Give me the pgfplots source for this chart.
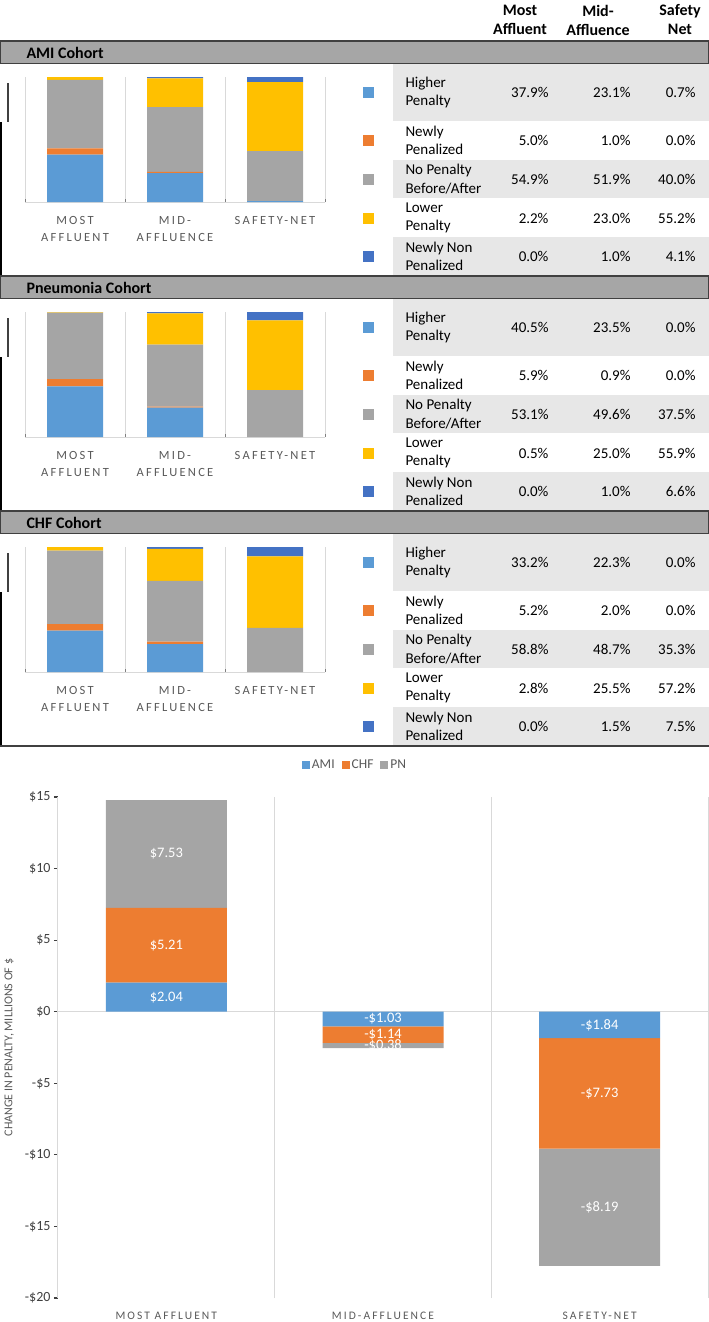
\documentclass[border=0pt]{standalone}
\usepackage{fontspec}
\setmainfont{Carlito}
\newfontfamily\capsfont[LetterSpace=18]{Carlito}
\usepackage{pgfplots}
\usepackage{pgfplotstable}
\pgfplotsset{compat=1.18}

\definecolor{cHigh}{HTML}{5B9BD5}
\definecolor{cNew}{HTML}{ED7D31}
\definecolor{cNone}{HTML}{A5A5A5}
\definecolor{cLow}{HTML}{FFC000}
\definecolor{cNon}{HTML}{4472C4}
\definecolor{gridc}{HTML}{D9D9D9}
\definecolor{lab}{HTML}{595959}
\definecolor{rowgray}{HTML}{E7E7E7}
\definecolor{hdrgray}{HTML}{A6A6A6}
\definecolor{hdrline}{HTML}{404040}

% share of hospitals (%) by penalty change, columns: most affluent, mid, safety-net
\pgfplotstableread{
x high new none low non
0 37.9 5.0 54.9 2.2 0.0
1 23.1 1.0 51.9 23.0 1.0
2 0.7 0.0 40.0 55.2 4.1
}\ami
\pgfplotstableread{
x high new none low non
0 40.5 5.9 53.1 0.5 0.0
1 23.5 0.9 49.6 25.0 1.0
2 0.0 0.0 37.5 55.9 6.6
}\pneu
\pgfplotstableread{
x high new none low non
0 33.2 5.2 58.8 2.8 0.0
1 22.3 2.0 48.7 25.5 1.5
2 0.0 0.0 35.3 57.2 7.5
}\chf

\newcommand\tfont{\fontsize{15}{18.5}\selectfont}

% frame of one cohort block, #1 = vertical offset in px, #2 = title
\newcommand\cohortframe[2]{%
\begin{scope}[x=1pt,y=-1pt,yshift=-#1pt]
  \fill[rowgray] (393,64) rectangle (709,121);
  \fill[rowgray] (393,160) rectangle (709,198);
  \fill[rowgray] (393,237) rectangle (709,276);
  \draw[hdrline,line width=1.2pt,fill=hdrgray] (0.6,41) rectangle (708.4,63.5);
  \node[anchor=west,font=\bfseries\fontsize{16}{18}\selectfont] at (23,52.5) {#2};
  \fill[cHigh] (363,87) rectangle (374,98);
  \fill[cNew]  (363,135) rectangle (374,146);
  \fill[cNone] (363,173.5) rectangle (374,184.5);
  \fill[cLow]  (363,212.5) rectangle (374,223.5);
  \fill[cNon]  (363,251) rectangle (374,262);
  \node[anchor=west,align=left,font=\tfont] at (402,92.5) {Higher\\Penalty};
  \node[anchor=west,align=left,font=\tfont] at (402,140.5) {Newly\\Penalized};
  \node[anchor=west,align=left,font=\tfont] at (402,179) {No Penalty\\Before/After};
  \node[anchor=west,align=left,font=\tfont] at (402,218) {Lower\\Penalty};
  \node[anchor=west,align=left,font=\tfont] at (402,256.5) {Newly Non\\Penalized};
  \draw[hdrline,line width=1.2pt] (8,83) -- (8,122);
  \draw[black,line width=1.5pt] (1,122) -- (1,276);
\end{scope}}

% one row of values
\newcommand\vals[5]{%
  \node[anchor=east,font=\tfont] at (552,#1+#2) {#3};
  \node[anchor=east,font=\tfont] at (634,#1+#2) {#4};
  \node[anchor=east,font=\tfont] at (699,#1+#2) {#5};}

\pgfplotsset{
  cohortbars/.style={
    scale only axis, width=300pt, height=125pt, anchor=south west,
    xmin=-0.5, xmax=2.5, ymin=0, ymax=100,
    ybar stacked, bar width=56pt,
    axis x line*=bottom, axis y line=none,
    x axis line style={draw=gridc,line width=1pt},
    xtick={0,1,2},
    xticklabels={{MOST\\AFFLUENT},{MID-\\AFFLUENCE},{SAFETY-NET}},
    xticklabel style={align=center,font=\capsfont\fontsize{12.5}{17}\selectfont,text=lab,yshift=-11pt},
    major tick length=0pt,
    minor xtick={-0.5,0.5,1.5,2.5}, xminorgrids,
    minor grid style={draw=gridc,line width=1pt},
    ytick=\empty,
    every axis plot/.append style={draw=none},
  }
}

\begin{document}
\begin{tikzpicture}
\useasboundingbox (0pt,0pt) rectangle (709pt,-1322pt);

\begin{scope}[x=1pt,y=-1pt]
  \node[align=center,font=\bfseries\fontsize{16}{19}\selectfont] at (520,20) {Most\\Affluent};
  \node[align=center,font=\bfseries\fontsize{16}{19}\selectfont] at (598,20) {Mid-\\Affluence};
  \node[align=center,font=\bfseries\fontsize{16}{19}\selectfont] at (680,20) {Safety\\Net};
\end{scope}

\cohortframe{0}{AMI Cohort}
\cohortframe{235}{Pneumonia Cohort}
\cohortframe{470}{CHF Cohort}

\begin{scope}[x=1pt,y=-1pt]
  \vals{0}{92.5}{37.9\%}{23.1\%}{0.7\%}
  \vals{0}{140.5}{5.0\%}{1.0\%}{0.0\%}
  \vals{0}{179}{54.9\%}{51.9\%}{40.0\%}
  \vals{0}{218}{2.2\%}{23.0\%}{55.2\%}
  \vals{0}{256.5}{0.0\%}{1.0\%}{4.1\%}
  \vals{235}{92.5}{40.5\%}{23.5\%}{0.0\%}
  \vals{235}{140.5}{5.9\%}{0.9\%}{0.0\%}
  \vals{235}{179}{53.1\%}{49.6\%}{37.5\%}
  \vals{235}{218}{0.5\%}{25.0\%}{55.9\%}
  \vals{235}{256.5}{0.0\%}{1.0\%}{6.6\%}
  \vals{470}{92.5}{33.2\%}{22.3\%}{0.0\%}
  \vals{470}{140.5}{5.2\%}{2.0\%}{0.0\%}
  \vals{470}{179}{58.8\%}{48.7\%}{35.3\%}
  \vals{470}{218}{2.8\%}{25.5\%}{57.2\%}
  \vals{470}{256.5}{0.0\%}{1.5\%}{7.5\%}
  \draw[black,line width=1.5pt] (1,592) -- (1,746);
  \draw[hdrline,line width=1.2pt] (0,746) -- (709,746);
\end{scope}

\begin{axis}[cohortbars, at={(25pt,-202pt)}]
\addplot[fill=cHigh] table[x=x,y=high]{\ami};
\addplot[fill=cNew] table[x=x,y=new]{\ami};
\addplot[fill=cNone] table[x=x,y=none]{\ami};
\addplot[fill=cLow] table[x=x,y=low]{\ami};
\addplot[fill=cNon] table[x=x,y=non]{\ami};
\end{axis}

\begin{axis}[cohortbars, at={(25pt,-437pt)}]
\addplot[fill=cHigh] table[x=x,y=high]{\pneu};
\addplot[fill=cNew] table[x=x,y=new]{\pneu};
\addplot[fill=cNone] table[x=x,y=none]{\pneu};
\addplot[fill=cLow] table[x=x,y=low]{\pneu};
\addplot[fill=cNon] table[x=x,y=non]{\pneu};
\end{axis}

\begin{axis}[cohortbars, at={(25pt,-672pt)}]
\addplot[fill=cHigh] table[x=x,y=high]{\chf};
\addplot[fill=cNew] table[x=x,y=new]{\chf};
\addplot[fill=cNone] table[x=x,y=none]{\chf};
\addplot[fill=cLow] table[x=x,y=low]{\chf};
\addplot[fill=cNon] table[x=x,y=non]{\chf};
\end{axis}

% change in penalty, millions of dollars
\begin{axis}[
  at={(58pt,-1298pt)}, anchor=south west,
  scale only axis, width=650pt, height=501pt,
  xmin=-0.5, xmax=2.5, ymin=-20, ymax=15,
  ybar stacked, bar width=121pt,
  axis lines*=left,
  x axis line style={draw=none},
  y axis line style={draw=gridc,line width=1pt},
  xtick={0,1,2},
  xticklabels={MOST AFFLUENT,MID-AFFLUENCE,SAFETY-NET},
  xticklabel style={font=\capsfont\fontsize{11.5}{14}\selectfont,text=lab,yshift=-6pt},
  xtick style={draw=none},
  minor xtick={-0.5,0.5,1.5,2.5}, xminorgrids,
  minor grid style={draw=gridc,line width=1pt},
  ytick={-20,-15,-10,-5,0,5,10,15},
  yticklabels={-\$20,-\$15,-\$10,-\$5,\$0,\$5,\$10,\$15},
  yticklabel style={font=\fontsize{14}{16}\selectfont,text=hdrline},
  ytick style={draw=hdrline,line width=1.2pt},
  tick align=outside, major tick length=4pt,
  extra y ticks={0}, extra y tick labels={},
  extra y tick style={grid=major,major grid style={draw=gridc,line width=1pt},ytick style={draw=none}},
  ylabel={CHANGE IN PENALTY, MILLIONS OF \$},
  every axis y label/.style={at={(axis description cs:-0.075,0.5)},rotate=90,anchor=center,font=\fontsize{12}{14}\selectfont,text=lab},
  legend style={at={(0.457,1.064)},anchor=center,draw=none,font=\fontsize{13.5}{15}\selectfont,text=lab,
    /tikz/every even column/.append style={column sep=5pt}},
  legend columns=3,
  legend image code/.code={\fill[#1] (0pt,-4pt) rectangle (8pt,4pt);},
  point meta=explicit symbolic,
  nodes near coords,
  every node near coord/.append style={anchor=center,text=white,font=\fontsize{14.5}{16}\selectfont},
  every axis plot/.append style={draw=none},
]
\addplot[fill=cHigh] coordinates {(0,2.04) [\$2.04] (1,-1.03) [-\$1.03] (2,-1.84) [-\$1.84]};
\addplot[fill=cNew] coordinates {(0,5.21) [\$5.21] (1,-1.14) [-\$1.14] (2,-7.73) [-\$7.73]};
\addplot[fill=cNone] coordinates {(0,7.53) [\$7.53] (1,-0.38) [-\$0.38] (2,-8.19) [-\$8.19]};
\legend{AMI,CHF,PN}
\end{axis}
\end{tikzpicture}
\end{document}
